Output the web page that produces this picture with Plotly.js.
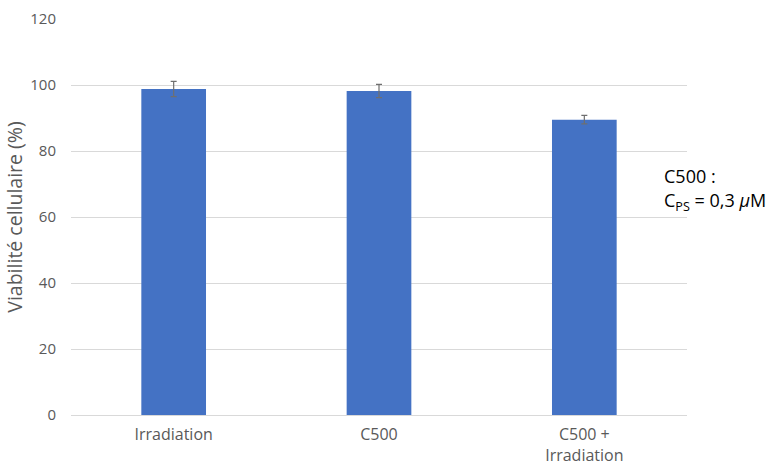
<!DOCTYPE html>
<html>
<head>
<meta charset="utf-8">
<script src="https://cdn.plot.ly/plotly-3.0.1.min.js"></script>
<style>html,body{margin:0;padding:0;background:#fff}#chart{width:767px;height:466px}</style>
</head>
<body>
<div id="chart"></div>
<script>
const categories = ["Irradiation", "C500", "C500 +<br>Irradiation"];
const viability = [98.8, 98.2, 89.5];
const errors = [2.3, 2.0, 1.3];
const yTicks = [0, 20, 40, 60, 80, 100, 120];

const trace = {
  type: "bar",
  x: categories,
  y: viability,
  width: 0.315,
  marker: {color: "#4472C4"},
  error_y: {type: "data", array: errors, visible: true, color: "#6f6f6f", thickness: 1.2, width: 3}
};

const layout = {
  width: 767, height: 466,
  margin: {l: 71, r: 80, t: 19, b: 51},
  paper_bgcolor: "#fff", plot_bgcolor: "#fff",
  font: {family: "'Open Sans', sans-serif", color: "#595959", size: 14},
  showlegend: false,
  xaxis: {
    type: "category",
    showgrid: false, zeroline: false,
    showline: true, linecolor: "#d9d9d9", linewidth: 1,
    tickfont: {size: 16, color: "#595959"},
    ticks: "", ticklabelstandoff: 5
  },
  yaxis: {
    range: [0, 120],
    tickvals: yTicks,
    ticktext: yTicks.map(String),
    showgrid: true, gridcolor: "#d9d9d9", gridwidth: 1,
    zeroline: false, showline: false,
    tickfont: {size: 15, color: "#595959"},
    ticklabelstandoff: 14,
    title: {text: "Viabilité cellulaire (%)", font: {size: 19.5, color: "#595959"}, standoff: 2}
  },
  annotations: [
    {xref: "paper", yref: "paper", x: 0.96, y: 0.604, xanchor: "left", yanchor: "middle", align: "left",
     showarrow: false, text: "C500 :", font: {size: 18, color: "#000"}},
    {xref: "paper", yref: "paper", x: 0.96, y: 0.54, xanchor: "left", yanchor: "middle", align: "left",
     showarrow: false, text: "C<sub>PS</sub> = 0,3 <i>μ</i>M", font: {size: 18, color: "#000"}}
  ]
};

Plotly.newPlot("chart", [trace], layout, {displayModeBar: false, staticPlot: true});
</script>
</body>
</html>
